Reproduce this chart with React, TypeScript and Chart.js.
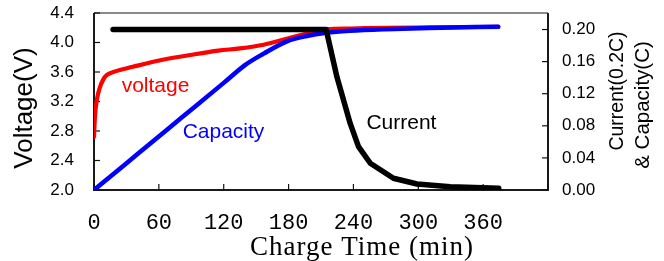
import React, { useEffect, useRef } from 'react';
import { Chart, registerables } from 'chart.js';

Chart.register(...registerables);

// ---- data ----
const timeTicks = [0, 60, 120, 180, 240, 300, 360, 420];
const timeTickLabels = ['0', '60', '120', '180', '240', '300', '360', ''];
const voltageTicks = [2.0, 2.4, 2.8, 3.2, 3.6, 4.0, 4.4];
const currentTicks = [0, 0.04, 0.08, 0.12, 0.16, 0.2];

const voltageTime = [0, 0.5, 1.5, 3, 5, 8.6, 12, 17.9, 36, 58, 89, 115, 135, 157, 178, 197, 215, 237, 270, 310, 374];
const voltageValues = [2.72, 2.9, 3.1, 3.25, 3.37, 3.5, 3.56, 3.6, 3.67, 3.75, 3.83, 3.89, 3.92, 3.97, 4.05, 4.12, 4.18, 4.19, 4.2, 4.205, 4.212];

const capacityTime = [0, 40, 80, 120, 140, 157, 178, 197, 215, 237, 270, 310, 374];
const capacityValues = [0, 0.0445, 0.089, 0.1335, 0.156, 0.17, 0.185, 0.192, 0.196, 0.1985, 0.2005, 0.202, 0.2035];

const currentTime = [17.6, 214.8, 224.7, 237, 244.7, 255.6, 277, 298.8, 329.6, 374.4];
const currentValues = [0.2, 0.2, 0.141, 0.083, 0.054, 0.0333, 0.0146, 0.0075, 0.0041, 0.0021];

const seriesNames = ['Current', 'Capacity', 'voltage'];

const toPoints = (xs: number[], ys: number[]) => xs.map((x, i) => ({ x, y: ys[i] }));

const decorPlugin = {
  id: 'decor',
  beforeDatasetsDraw(chart: any) {
    const { ctx, chartArea: a, scales } = chart;
    ctx.save();
    // frame
    ctx.lineWidth = 2;
    ctx.strokeStyle = '#8a8a8a';
    ctx.beginPath();
    ctx.moveTo(a.left, a.top);
    ctx.lineTo(a.right, a.top);
    ctx.stroke();
    ctx.strokeStyle = '#1a1a1a';
    ctx.beginPath();
    ctx.moveTo(a.left, a.top);
    ctx.lineTo(a.left, a.bottom);
    ctx.lineTo(a.right, a.bottom);
    ctx.lineTo(a.right, a.top);
    ctx.stroke();
    // inward tick marks
    ctx.lineWidth = 1.2;
    ctx.strokeStyle = '#111';
    const tl = 6;
    scales.x.ticks.forEach((t: any) => {
      const px = scales.x.getPixelForValue(t.value);
      ctx.beginPath();
      ctx.moveTo(px, a.bottom);
      ctx.lineTo(px, a.bottom - tl);
      ctx.stroke();
    });
    scales.y.ticks.forEach((t: any) => {
      const py = scales.y.getPixelForValue(t.value);
      ctx.beginPath();
      ctx.moveTo(a.left, py);
      ctx.lineTo(a.left + tl, py);
      ctx.stroke();
    });
    scales.y1.ticks.forEach((t: any) => {
      const py = scales.y1.getPixelForValue(t.value);
      ctx.beginPath();
      ctx.moveTo(a.right, py);
      ctx.lineTo(a.right - tl, py);
      ctx.stroke();
    });
    ctx.restore();
  },
  afterDatasetsDraw(chart: any) {
    const { ctx, scales } = chart;
    ctx.save();
    // in-plot series labels, anchored in data coordinates (time, voltage axis)
    const notes = [
      { text: seriesNames[2], t: 25.6, v: 3.325, color: '#ff0000' },
      { text: seriesNames[1], t: 82, v: 2.7, color: '#0000ff' },
      { text: seriesNames[0], t: 252, v: 2.83, color: '#000000' },
    ];
    ctx.font = '21px "Liberation Sans", Arial, sans-serif';
    ctx.textAlign = 'left';
    ctx.textBaseline = 'alphabetic';
    notes.forEach((n) => {
      ctx.fillStyle = n.color;
      ctx.fillText(n.text, scales.x.getPixelForValue(n.t), scales.y.getPixelForValue(n.v));
    });

    // axis titles
    ctx.fillStyle = '#000';
    ctx.textAlign = 'center';
    ctx.textBaseline = 'alphabetic';
    const rot = (text: string, x: number, y: number, font: string) => {
      ctx.save();
      ctx.translate(x, y);
      ctx.rotate(-Math.PI / 2);
      ctx.font = font;
      ctx.fillText(text, 0, 0);
      ctx.restore();
    };
    rot('Voltage(V)', 32, 108, '26px "Liberation Sans", Arial, sans-serif');
    rot('Current(0.2C)', 623, 91, '19.5px "Liberation Sans", Arial, sans-serif');
    rot('& Capacity(C)', 649, 105, '20.5px "Liberation Sans", Arial, sans-serif');
    ctx.font = '27px "Liberation Serif", serif';
    try {
      (ctx as any).letterSpacing = '1px';
    } catch (e) {
      /* ignore */
    }
    ctx.fillText('Charge Time (min)', 362, 255);
    ctx.restore();
  },
};

const zeroPad = (s: any) => {
  s.paddingTop = 0;
  s.paddingBottom = 0;
  s.paddingLeft = 0;
  s.paddingRight = 0;
};

export default function App() {
  const ref = useRef<HTMLCanvasElement | null>(null);
  useEffect(() => {
    if (!ref.current) return;
    const chart = new Chart(ref.current, {
      type: 'line',
      data: {
        datasets: [
          {
            label: seriesNames[0],
            data: toPoints(currentTime, currentValues),
            yAxisID: 'y1',
            borderColor: '#000000',
            borderWidth: 5.5,
            pointRadius: 0,
            tension: 0,
            borderCapStyle: 'round',
            borderJoinStyle: 'round',
          },
          {
            label: seriesNames[1],
            data: toPoints(capacityTime, capacityValues),
            yAxisID: 'y1',
            borderColor: '#0000ff',
            borderWidth: 4.5,
            pointRadius: 0,
            cubicInterpolationMode: 'monotone',
            borderCapStyle: 'round',
            borderJoinStyle: 'round',
          },
          {
            label: seriesNames[2],
            data: toPoints(voltageTime, voltageValues),
            yAxisID: 'y',
            borderColor: '#ff0000',
            borderWidth: 4.2,
            pointRadius: 0,
            cubicInterpolationMode: 'monotone',
            borderCapStyle: 'round',
            borderJoinStyle: 'round',
          },
        ],
      },
      options: {
        responsive: false,
        animation: false,
        events: [],
        layout: { padding: { top: 13, left: 0, right: 0, bottom: 0 } },
        plugins: { legend: { display: false }, tooltip: { enabled: false } },
        scales: {
          x: {
            type: 'linear',
            min: 0,
            max: 420,
            grid: { display: false, drawTicks: false },
            border: { display: false },
            afterBuildTicks: (s: any) => {
              s.ticks = timeTicks.map((v) => ({ value: v }));
            },
            afterFit: (s: any) => {
              s.height = 71;
              zeroPad(s);
            },
            ticks: {
              autoSkip: false,
              maxRotation: 0,
              padding: 20,
              color: '#000',
              font: { family: '"Liberation Mono", monospace', size: 22 },
              callback: (v: any) => {
                const i = timeTicks.indexOf(Number(v));
                return i >= 0 ? timeTickLabels[i] : '';
              },
            },
          },
          y: {
            type: 'linear',
            position: 'left',
            min: 2.0,
            max: 4.4,
            grid: { display: false, drawTicks: false },
            border: { display: false },
            afterBuildTicks: (s: any) => {
              s.ticks = voltageTicks.map((v) => ({ value: v }));
            },
            afterFit: (s: any) => {
              s.width = 94;
              zeroPad(s);
            },
            ticks: {
              padding: 20,
              color: '#000',
              font: { family: '"Liberation Sans", Arial, sans-serif', size: 17 },
              callback: (v: any) => Number(v).toFixed(1),
            },
          },
          y1: {
            type: 'linear',
            position: 'right',
            min: 0,
            max: 0.2206,
            grid: { display: false, drawTicks: false },
            border: { display: false },
            afterBuildTicks: (s: any) => {
              s.ticks = currentTicks.map((v) => ({ value: v }));
            },
            afterFit: (s: any) => {
              s.width = 116;
              zeroPad(s);
            },
            ticks: {
              padding: 14,
              color: '#000',
              font: { family: '"Liberation Sans", Arial, sans-serif', size: 17 },
              callback: (v: any) => Number(v).toFixed(2),
            },
          },
        },
      },
      plugins: [decorPlugin],
    } as any);
    return () => chart.destroy();
  }, []);
  return (
    <div style={{ position: 'fixed', left: 0, top: 0, width: 664, height: 261, background: '#fff' }}>
      <canvas ref={ref} width={664} height={261} style={{ width: 664, height: 261, display: 'block' }} />
    </div>
  );
}
